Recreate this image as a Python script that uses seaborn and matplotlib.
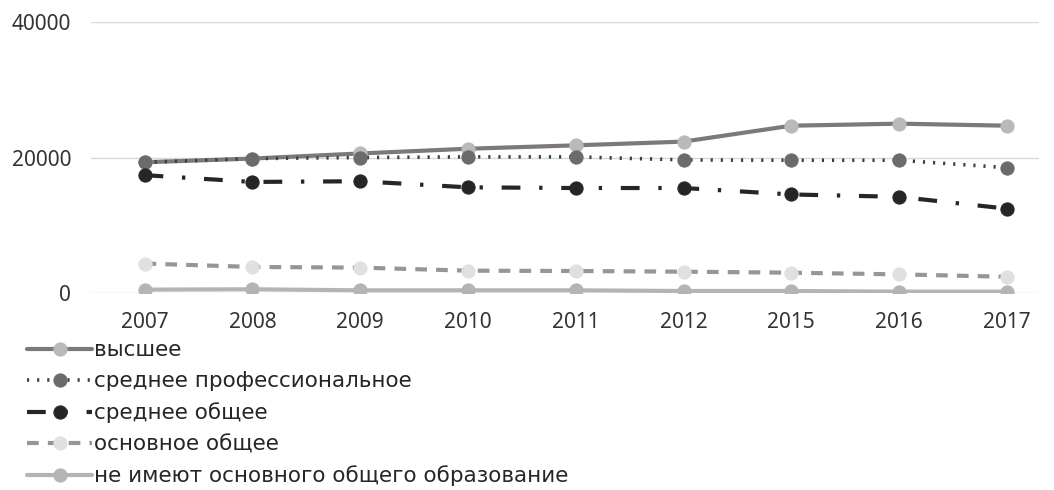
import pandas as pd
import seaborn as sns
import matplotlib.pyplot as plt

# values
years = ["2007", "2008", "2009", "2010", "2011", "2012", "2015", "2016", "2017"]
vysshee = [19300, 19850, 20600, 21300, 21800, 22350, 24700, 25000, 24700]
srednee_prof = [19300, 19850, 20000, 20100, 20100, 19650, 19600, 19600, 18500]
srednee_obshee = [17400, 16400, 16500, 15600, 15500, 15500, 14550, 14200, 12450]
osnovnoe = [4350, 3850, 3750, 3300, 3250, 3150, 3000, 2750, 2400]
ne_imeyut = [500, 550, 400, 400, 400, 300, 300, 200, 200]

labels = ["высшее", "среднее профессиональное", "среднее общее",
          "основное общее", "не имеют основного общего образование"]

sns.set_theme(style="white")
plt.rcParams['font.family'] = ['Noto Sans', 'DejaVu Sans']

fig = plt.figure(figsize=(10.54, 4.9), dpi=100)
ax = fig.add_axes([0.086, 0.402, 0.90, 0.553])

series = [vysshee, srednee_prof, srednee_obshee, osnovnoe, ne_imeyut]
styles = [
    dict(color="#7f7878", linestyle="-", lw=3.0, mfc="#b9b9b9"),
    dict(color="#3f3f3f", linestyle=(0, (0.6, 2.2)), lw=2.6, mfc="#6b6b6b"),
    dict(color="#262626", linestyle=(0, (4.5, 4.5, 0.8, 4.5)), lw=3.0, mfc="#262626"),
    dict(color="#969696", linestyle=(0, (2.8, 2.2)), lw=3.0, mfc="#e0e0e0"),
    dict(color="#b4b4b4", linestyle="-", lw=3.0, mfc="#b4b4b4"),
]

for vals, lab, st in zip(series, labels, styles):
    d = pd.DataFrame({"year": years, "value": vals})
    sns.lineplot(data=d, x="year", y="value", ax=ax, sort=False,
                 color=st["color"], linestyle=st["linestyle"], linewidth=st["lw"],
                 marker="o", markersize=9.5, markerfacecolor=st["mfc"],
                 markeredgecolor=st["mfc"], label=lab)

ax.set_ylim(0, 40000)
ax.set_xlim(-0.5, 8.3)
ax.set_yticks([0, 20000, 40000])
ax.yaxis.grid(True, color="#d9d9d9", lw=1)
ax.xaxis.grid(False)
for s in ax.spines.values():
    s.set_visible(False)
ax.set_xlabel("")
ax.set_ylabel("")
ax.tick_params(axis="y", labelsize=15, pad=14, length=0, colors="#333333")
ax.tick_params(axis="x", labelsize=15, pad=14, length=0, colors="#333333")

ax.legend(loc="upper left", bbox_to_anchor=(0.026, 0.306), bbox_transform=fig.transFigure,
          frameon=False, prop={"family": "DejaVu Sans", "size": 15.5}, handlelength=3.0,
          handletextpad=0.1, labelspacing=0.52, borderpad=0, borderaxespad=0,
          numpoints=1, labelcolor="#262626")

fig.savefig("out.png", dpi=100)
plt.close()
